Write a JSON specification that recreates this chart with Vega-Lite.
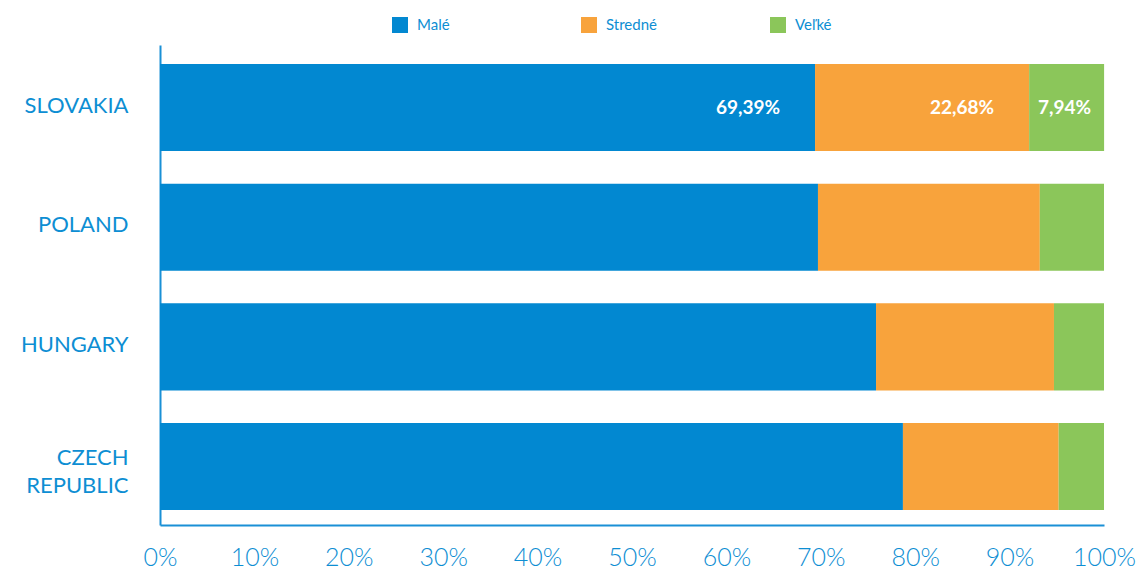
{
  "$schema": "https://vega.github.io/schema/vega-lite/v6.json",
  "autosize": {"type": "none"},
  "width": 944,
  "height": 480,
  "padding": {"left": 160, "top": 45, "right": 36, "bottom": 45},
  "background": "white",
  "config": {
    "view": {"stroke": null},
    "font": "Lato"
  },
  "data": {
    "values": [
      {"country": "SLOVAKIA", "size": "Malé", "value": 69.39, "label": "69,39%"},
      {"country": "SLOVAKIA", "size": "Stredné", "value": 22.68, "label": "22,68%"},
      {"country": "SLOVAKIA", "size": "Veľké", "value": 7.94, "label": "7,94%"},
      {"country": "POLAND", "size": "Malé", "value": 69.7, "label": ""},
      {"country": "POLAND", "size": "Stredné", "value": 23.5, "label": ""},
      {"country": "POLAND", "size": "Veľké", "value": 6.8, "label": ""},
      {"country": "HUNGARY", "size": "Malé", "value": 75.85, "label": ""},
      {"country": "HUNGARY", "size": "Stredné", "value": 18.85, "label": ""},
      {"country": "HUNGARY", "size": "Veľké", "value": 5.3, "label": ""},
      {"country": "CZECH REPUBLIC", "size": "Malé", "value": 78.7, "label": ""},
      {"country": "CZECH REPUBLIC", "size": "Stredné", "value": 16.5, "label": ""},
      {"country": "CZECH REPUBLIC", "size": "Veľké", "value": 4.8, "label": ""}
    ]
  },
  "transform": [
    {"stack": "value", "groupby": ["country"], "sort": [{"field": "size", "order": "ascending"}], "as": ["x0", "x1"]}
  ],
  "encoding": {
    "y": {
      "field": "country",
      "type": "nominal",
      "sort": ["SLOVAKIA", "POLAND", "HUNGARY", "CZECH REPUBLIC"],
      "scale": {"paddingInner": 0.273, "paddingOuter": 0.142, "align": 0.56},
      "axis": {
        "title": null,
        "domainColor": "#1a90d6",
        "domainWidth": 2,
        "ticks": false,
        "labelColor": "#0d8ed3",
        "labelFontSize": 22,
        "labelFont": "Lato",
        "labelPadding": 32,
        "labelAlign": "right",
        "labelLineHeight": 28,
        "labelOffset": {"condition": {"test": "datum.value == 'CZECH REPUBLIC'", "value": -9}, "value": -2},
        "labelExpr": "split(datum.label, ' ')"
      }
    }
  },
  "layer": [
    {
      "mark": {"type": "bar"},
      "encoding": {
        "x": {
          "field": "x0",
          "type": "quantitative",
          "scale": {"domain": [0, 100], "nice": false},
          "axis": {
            "title": null,
            "values": [0, 10, 20, 30, 40, 50, 60, 70, 80, 90, 100],
            "labelExpr": "datum.value + '%'",
            "grid": false,
            "ticks": false,
            "domainColor": "#1a90d6",
            "domainWidth": 2,
            "labelColor": "#0d8ed3",
            "labelFontSize": 25,
            "labelFont": "Lato",
            "labelFontWeight": 300,
            "labelPadding": 20,
            "labelFlush": false
          }
        },
        "x2": {"field": "x1"},
        "color": {
          "field": "size",
          "type": "nominal",
          "scale": {"domain": ["Malé", "Stredné", "Veľké"], "range": ["#0288d1", "#f8a33c", "#8bc65a"]},
          "legend": {
            "title": null,
            "orient": "none",
            "legendX": 232,
            "legendY": -28,
            "direction": "horizontal",
            "columns": 3,
            "gridAlign": "all",
            "columnPadding": 113,
            "padding": 0,
            "symbolType": "square",
            "symbolSize": 256,
            "symbolStrokeWidth": 0,
            "symbolOpacity": 1,
            "labelColor": "#0d8ed3",
            "labelFontSize": 15,
            "labelFont": "Lato",
            "labelOffset": 9
          }
        }
      }
    },
    {
      "transform": [{"filter": "datum.label != '' && datum.size != 'Veľké'"}],
      "mark": {"type": "text", "align": "right", "baseline": "middle", "dx": -35, "color": "white", "fontSize": 19, "fontWeight": "bold", "font": "Lato"},
      "encoding": {
        "x": {"field": "x1", "type": "quantitative"},
        "text": {"field": "label"}
      }
    },
    {
      "transform": [{"filter": "datum.label != '' && datum.size == 'Veľké'"}],
      "mark": {"type": "text", "align": "right", "baseline": "middle", "dx": -13, "color": "white", "fontSize": 19, "fontWeight": "bold", "font": "Lato"},
      "encoding": {
        "x": {"field": "x1", "type": "quantitative"},
        "text": {"field": "label"}
      }
    }
  ]
}
